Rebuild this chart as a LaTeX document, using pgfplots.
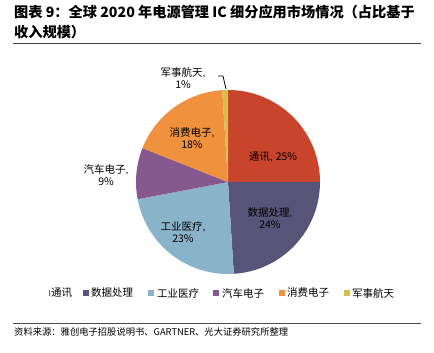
\documentclass[border=0pt]{standalone}
\usepackage{pgfplots}
\pgfplotsset{compat=1.18}
\usepackage{pgfplotstable}
\usepackage{fontspec}
\setmainfont{Noto Sans CJK SC}
\newfontfamily\lab{Liberation Sans}
\definecolor{c1}{HTML}{C8442A}
\definecolor{c2}{HTML}{585478}
\definecolor{c3}{HTML}{89B3C8}
\definecolor{c4}{HTML}{86598E}
\definecolor{c5}{HTML}{F0913E}
\definecolor{c6}{HTML}{D8BC4C}
% start angle, share (%)
\newcommand\slice[3]{\fill[#3] (axis cs:0,0) -- (axis cs:{cos(#1)},{sin(#1)}) arc[start angle=#1, end angle={#1-3.6*#2}, radius=92pt] -- cycle;}
\begin{document}
\begin{tikzpicture}[x=1pt,y=1pt]
\path[use as bounding box] (0,0) rectangle (434,353);
% title
\node[anchor=west,font=\fontsize{14.2}{16}\selectfont\bfseries,inner sep=0] at (14,341) {图表 9：全球 2020 年电源管理 IC 细分应用市场情况（占比基于};
\node[anchor=west,font=\fontsize{14.2}{16}\selectfont\bfseries,inner sep=0] at (14,321) {收入规模）};
\draw[line width=1pt,black!75] (13,309.5) -- (421,309.5);
\begin{axis}[at={(228pt,171pt)},anchor=origin,scale only axis,width=184pt,height=184pt,
  xmin=-1,xmax=1,ymin=-1,ymax=1,hide axis,clip=false]
\slice{90}{25}{c1}
\slice{0}{24}{c2}
\slice{-86.4}{23}{c3}
\slice{-169.2}{9}{c4}
\slice{-201.6}{18}{c5}
\slice{-266.4}{1}{c6}
\end{axis}
% data labels
\begin{scope}[every node/.style={font=\fontsize{10.5}{12.5}\selectfont,align=center,inner sep=0}]
\node at (273,196) {通讯{\lab, }25\%};
\node at (270,135) {数据处理{\lab,}\\24\%};
\node at (183,121) {工业医疗{\lab,}\\23\%};
\node at (106,178) {汽车电子{\lab,}\\9\%};
\node at (192,215) {消费电子{\lab,}\\18\%};
\node at (183,275) {军事航天{\lab,}\\1\%};
\end{scope}
\draw[line width=0.8pt] (218,277) -- (223,277) -- (226,264);
% legend
\begin{scope}[every node/.style={font=\fontsize{10.5}{12.5}\selectfont,anchor=west,inner sep=0}]
\fill[c1] (48.5,57) rectangle (50,63); \node at (51,60) {通讯};
\fill[c2] (83,57) rectangle (89,63); \node at (91,60) {数据处理};
\fill[c3] (148,57) rectangle (154,63); \node at (157,60) {工业医疗};
\fill[c4] (213,57) rectangle (219,63); \node at (222,60) {汽车电子};
\fill[c5] (279,57) rectangle (285,63); \node at (287,60) {消费电子};
\fill[c6] (344,57) rectangle (350,63); \node at (352,60) {军事航天};
\end{scope}
\draw[line width=0.8pt,black!70] (13,30) -- (421,30);
\node[anchor=west,font=\fontsize{9.3}{11}\selectfont,inner sep=0] at (14,21) {资料来源：雅创电子招股说明书、GARTNER、光大证券研究所整理};
\end{tikzpicture}
\end{document}
